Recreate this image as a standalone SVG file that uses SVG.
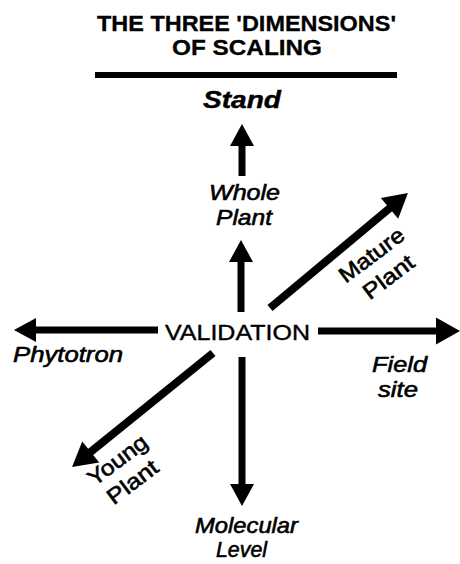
<svg xmlns="http://www.w3.org/2000/svg" width="460" height="564" viewBox="0 0 460 564">
<style>
text{font-family:"Liberation Sans",Arial,sans-serif;fill:#000;stroke:#000;stroke-width:0.6}
.title{font-size:22.5px;font-weight:bold;stroke-width:0.3}
.stand{font-size:23px;font-weight:bold;font-style:italic;stroke-width:0.4}
.lab{font-size:22px;font-style:italic}
.rot{font-size:22px}
.val{font-size:22.5px;stroke-width:0.4}
.arr{stroke:#000;stroke-width:7;fill:none}
.diag{stroke:#000;stroke-width:8;fill:none}
</style>
<defs>
<marker id="ah" markerUnits="userSpaceOnUse" markerWidth="30" markerHeight="30" refX="4" refY="12" orient="auto" overflow="visible">
<path d="M0,0 L22,12 L0,24 z" fill="#000"/>
</marker>
<marker id="ahL" markerUnits="userSpaceOnUse" markerWidth="32" markerHeight="32" refX="4" refY="13.5" orient="auto" overflow="visible">
<path d="M0,0 L24,13.5 L0,27 z" fill="#000"/>
</marker>
</defs>
<g id="title">
<text class="title" x="97" y="31" textLength="299" lengthAdjust="spacingAndGlyphs">THE THREE 'DIMENSIONS'</text>
<text class="title" x="172" y="55" textLength="150" lengthAdjust="spacingAndGlyphs">OF SCALING</text>
<rect x="95" y="72" width="302" height="6" fill="#000"/>
</g>
<g id="connectors">
<line class="arr" x1="242" y1="176" x2="242" y2="142" marker-end="url(#ah)"/>
<line class="arr" x1="241" y1="312" x2="241" y2="258" marker-end="url(#ah)"/>
<line class="arr" x1="158" y1="330" x2="32" y2="330" marker-end="url(#ah)"/>
<line class="arr" x1="318" y1="331" x2="440" y2="331" marker-end="url(#ahL)"/>
<line class="diag" x1="270" y1="308" x2="392.6" y2="205.8" marker-end="url(#ahL)"/>
<line class="diag" x1="213" y1="353" x2="87.6" y2="454.4" marker-end="url(#ahL)"/>
<line class="arr" x1="242" y1="357" x2="242" y2="488" marker-end="url(#ah)"/>
</g>
<g id="stand"><text class="stand" x="203" y="108" textLength="78" lengthAdjust="spacingAndGlyphs">Stand</text></g>
<g id="whole-plant">
<text class="lab" x="209" y="200" textLength="71" lengthAdjust="spacingAndGlyphs">Whole</text>
<text class="lab" x="216" y="225" textLength="56" lengthAdjust="spacingAndGlyphs">Plant</text>
</g>
<g id="validation"><text class="val" x="165" y="340" textLength="145" lengthAdjust="spacingAndGlyphs">VALIDATION</text></g>
<g id="phytotron"><text class="lab" x="13" y="362" textLength="110" lengthAdjust="spacingAndGlyphs">Phytotron</text></g>
<g id="field-site">
<text class="lab" x="372" y="372" textLength="55" lengthAdjust="spacingAndGlyphs">Field</text>
<text class="lab" x="378" y="397" textLength="40" lengthAdjust="spacingAndGlyphs">site</text>
</g>
<g id="molecular-level">
<text class="lab" x="195" y="533" textLength="103" lengthAdjust="spacingAndGlyphs">Molecular</text>
<text class="lab" x="216" y="557" textLength="51" lengthAdjust="spacingAndGlyphs">Level</text>
</g>
<g id="mature-plant">
<text class="rot" text-anchor="middle" transform="translate(376,261) rotate(-37)" textLength="76" lengthAdjust="spacingAndGlyphs">Mature</text>
<text class="rot" text-anchor="middle" transform="translate(393,283) rotate(-37)" textLength="58" lengthAdjust="spacingAndGlyphs">Plant</text>
</g>
<g id="young-plant">
<text class="rot" text-anchor="middle" transform="translate(122,466) rotate(-37)" textLength="69" lengthAdjust="spacingAndGlyphs">Young</text>
<text class="rot" text-anchor="middle" transform="translate(137,488) rotate(-37)" textLength="58" lengthAdjust="spacingAndGlyphs">Plant</text>
</g>
</svg>
